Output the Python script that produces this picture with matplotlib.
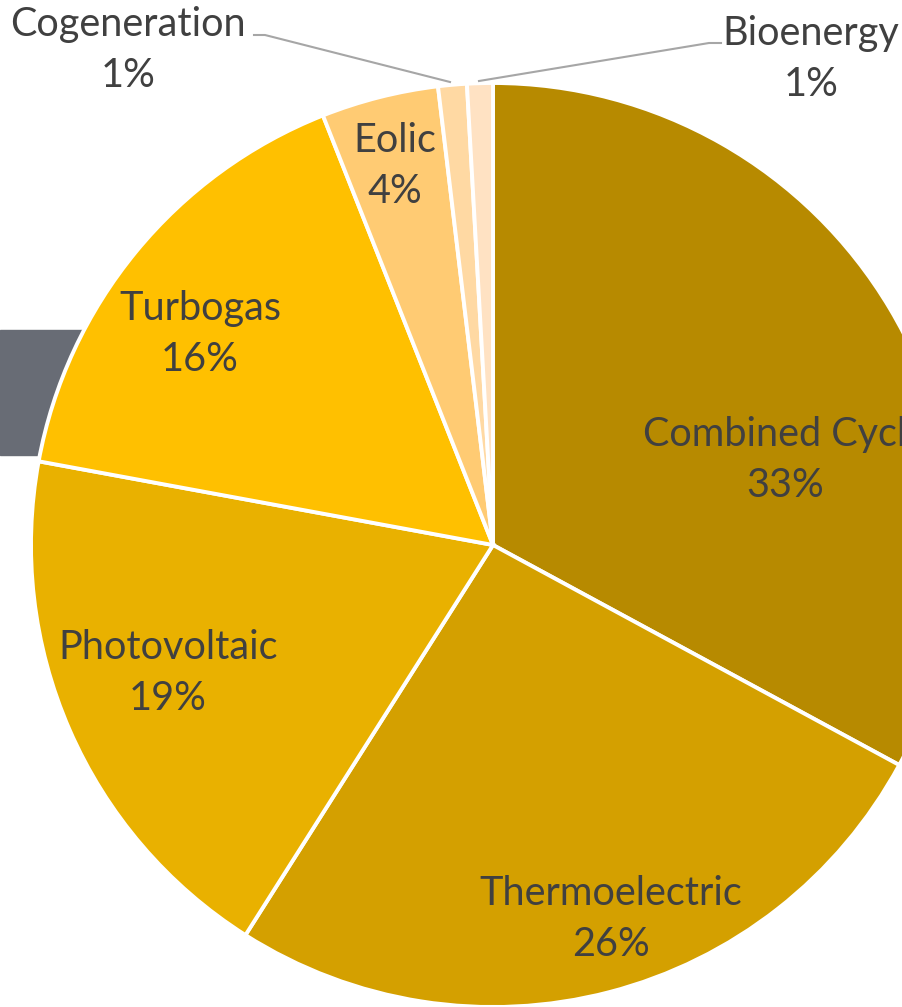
import matplotlib.pyplot as plt
from matplotlib.patches import Rectangle

# slices, clockwise from 12 o'clock
sources = ["Combined Cycle", "Thermoelectric", "Photovoltaic", "Turbogas",
           "Eolic", "Cogeneration", "Bioenergy"]
shares = [32.9, 26.1, 18.9, 16.1, 4.1, 1.0, 0.9]
colors = ["#B78A00", "#D4A000", "#E9B100", "#FFC000",
          "#FFCB73", "#FFD9A3", "#FFE2C3"]

W, H = 902, 1007
TEXT = "#404040"

# label centres in pixel coords (y down), hand placed like the original
label_pos = {
    "Combined Cycle": (785, 460),
    "Thermoelectric": (611, 919),
    "Photovoltaic": (168, 673),
    "Turbogas": (200, 334),
    "Eolic": (395, 166),
    "Cogeneration": (128, 50),
    "Bioenergy": (811, 59),
}

fig = plt.figure(figsize=(W / 100, H / 100), dpi=100)
ax = fig.add_axes([0, 0, 1, 1])

# grey block sitting behind the pie on the left
ax.add_patch(Rectangle((0, H - 455), 110, 125, color="#686C75", zorder=0))

ax.pie(shares, colors=colors, startangle=90, counterclock=False,
       center=(493, H - 545), radius=462, frame=True,
       wedgeprops=dict(edgecolor="white", linewidth=2.8))
ax.set_xlim(0, W)
ax.set_ylim(0, H)
ax.set_aspect("equal")
ax.axis("off")

for name, val in zip(sources, shares):
    x, y = label_pos[name]
    ax.text(x, H - y, f"{name}\n{round(val)}%", ha="center", va="center",
            fontsize=28.5, color=TEXT, family="Lato", linespacing=1.45,
            zorder=5)

# leader lines for the two thin slices
ax.plot([254, 265, 450], [H - 35, H - 35, H - 82], color="#A6A6A6", lw=1.5)
ax.plot([479, 709, 721], [H - 81, H - 43, H - 43], color="#A6A6A6", lw=1.5)

fig.savefig("out.png", dpi=100)
